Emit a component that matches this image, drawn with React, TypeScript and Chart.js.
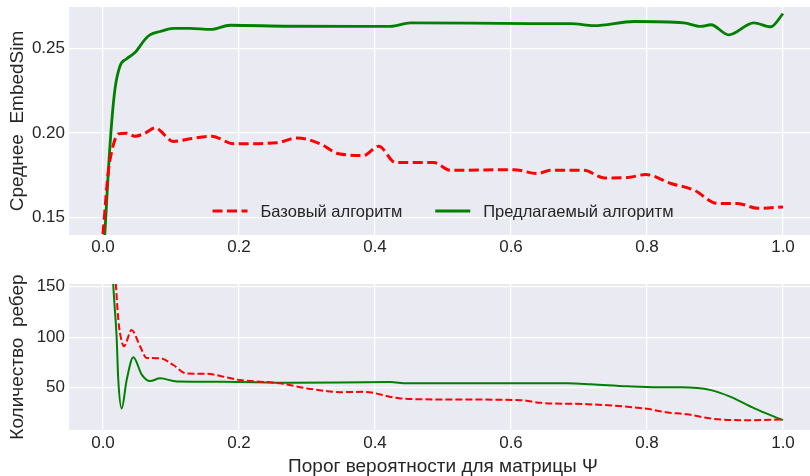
import React, { useEffect, useRef } from 'react';
import { Chart, registerables } from 'chart.js';

Chart.register(...registerables);

// ---------- data ----------
const xTicks = [0, 0.2, 0.4, 0.6, 0.8, 1.0];
const simTicks = [0.15, 0.2, 0.25];
const edgeTicks = [50, 100, 150];

const LABEL_BASE = 'Базовый алгоритм';
const LABEL_PROP = 'Предлагаемый алгоритм';
const Y_TITLE_TOP = 'Среднее  EmbedSim';
const Y_TITLE_BOTTOM = 'Количество  ребер';
const X_TITLE = 'Порог вероятности для матрицы Ψ';

// Mean EmbedSim, baseline algorithm
const simBaseX = [0, 0.0078, 0.015, 0.0225, 0.0349, 0.047, 0.0618, 0.0766, 0.1035, 0.128, 0.16, 0.192, 0.256, 0.285, 0.3196, 0.3466, 0.383, 0.4055, 0.43, 0.4865, 0.511, 0.604, 0.639, 0.658, 0.707, 0.737, 0.771, 0.798, 0.835, 0.869, 0.904, 0.933, 0.963, 1.0];
const simBaseY = [0.14, 0.1769, 0.1925, 0.1994, 0.1998, 0.198, 0.1998, 0.2029, 0.1949, 0.1965, 0.198, 0.1935, 0.1941, 0.197, 0.1935, 0.1876, 0.1866, 0.1921, 0.1824, 0.1824, 0.1778, 0.1782, 0.1759, 0.1778, 0.1778, 0.1733, 0.1735, 0.1753, 0.17, 0.1661, 0.1582, 0.1582, 0.1553, 0.1561];

// Mean EmbedSim, proposed algorithm
const simPropX = [0, 0.0029, 0.0078, 0.0128, 0.0176, 0.025, 0.0349, 0.047, 0.0618, 0.069, 0.084, 0.1035, 0.128, 0.158, 0.187, 0.275, 0.423, 0.452, 0.629, 0.688, 0.722, 0.781, 0.854, 0.879, 0.894, 0.92, 0.957, 0.982, 1.0];
const simPropY = [0.125, 0.1416, 0.1769, 0.2063, 0.2259, 0.2396, 0.2439, 0.2475, 0.2553, 0.258, 0.26, 0.2618, 0.2618, 0.2612, 0.2637, 0.2631, 0.263, 0.2651, 0.2647, 0.2647, 0.2635, 0.2659, 0.2651, 0.263, 0.264, 0.258, 0.2651, 0.2628, 0.2706];

// Edge count, baseline algorithm
const edgeBaseX = [0, 0.019, 0.0226, 0.025, 0.0309, 0.042, 0.0545, 0.064, 0.084, 0.1035, 0.123, 0.148, 0.2015, 0.26, 0.3, 0.354, 0.383, 0.437, 0.496, 0.614, 0.644, 0.712, 0.8, 0.83, 0.859, 0.894, 0.948, 1.0];
const edgeBaseY = [400, 152, 117, 104, 91, 107, 91, 79.5, 79.2, 72.5, 64, 63.9, 57.6, 54.4, 49.4, 45.7, 46, 39.5, 38.5, 37.8, 35.1, 33.8, 29.2, 25.6, 23.9, 19.6, 18, 18.6];

// Edge count, proposed algorithm
const edgePropX = [0, 0.0151, 0.02, 0.0225, 0.0275, 0.0348, 0.0446, 0.057, 0.069, 0.084, 0.1085, 0.177, 0.275, 0.422, 0.447, 0.683, 0.718, 0.771, 0.815, 0.85, 0.894, 0.923, 0.958, 1.0];
const edgePropY = [400, 152, 100.6, 57.6, 29.6, 57.6, 80.2, 63, 56.6, 59.3, 56.3, 56, 55, 55.6, 54.4, 54.4, 53.4, 51.4, 50.4, 50.4, 47.7, 41, 29.6, 18];

// ---------- styling ----------
const FONT = '"Liberation Sans", Arial, sans-serif';
const TEXT = '#262626';
const BG = '#EAEAF2';
const RED = '#FF0000';
const GREEN = '#008000';

const zip = (xs: number[], ys: number[]) => xs.map((x, i) => ({ x, y: ys[i] }));

const bgPlugin = {
  id: 'axesBg',
  beforeDraw(chart: any) {
    const { ctx, chartArea: a } = chart;
    ctx.save();
    ctx.fillStyle = BG;
    ctx.fillRect(a.left, a.top, a.right - a.left, a.bottom - a.top);
    ctx.restore();
  },
};

const innerLegend = {
  id: 'innerLegend',
  afterDatasetsDraw(chart: any) {
    const { ctx, chartArea: a } = chart;
    const items = chart.data.datasets;
    ctx.save();
    ctx.font = `16.5px ${FONT}`;
    const handle = 35;
    const gap = 13;
    const colGap = 33;
    const widths = items.map((d: any) => ctx.measureText(d.label).width);
    let total = 0;
    widths.forEach((w: number, i: number) => {
      total += handle + gap + w + (i < widths.length - 1 ? colGap : 0);
    });
    let x = (a.left + a.right) / 2 - total / 2;
    const y = a.bottom - 24;
    items.forEach((d: any, i: number) => {
      ctx.beginPath();
      ctx.strokeStyle = d.borderColor;
      ctx.lineWidth = d.borderWidth;
      ctx.setLineDash(d.borderDash || []);
      ctx.moveTo(x, y);
      ctx.lineTo(x + handle, y);
      ctx.stroke();
      ctx.setLineDash([]);
      ctx.fillStyle = TEXT;
      ctx.textAlign = 'left';
      ctx.textBaseline = 'middle';
      ctx.fillText(d.label, x + handle + gap, y + 1);
      x += handle + gap + widths[i] + colGap;
    });
    ctx.restore();
  },
};

function makeOptions(p: {
  yMin: number; yMax: number; yTicks: number[]; yDigits: number; yTitle: string;
  xTitle?: string; topPad: number; xHeight: number; xTickPad: number;
}) {
  return {
    responsive: false,
    animation: false,
    devicePixelRatio: 1,
    layout: { padding: { top: p.topPad, left: 0, right: 0, bottom: 0 } },
    plugins: { legend: { display: false }, tooltip: { enabled: false } },
    elements: { point: { radius: 0 } },
    scales: {
      x: {
        type: 'linear',
        min: -0.05,
        max: 1.05,
        afterBuildTicks: (s: any) => { s.ticks = xTicks.map((v) => ({ value: v })); },
        afterFit: (s: any) => { s.height = p.xHeight; s.paddingLeft = 0; s.paddingRight = 0; },
        ticks: {
          callback: (v: any) => Number(v).toFixed(1),
          color: TEXT,
          font: { size: 17, family: FONT },
          padding: p.xTickPad,
          maxRotation: 0,
          autoSkip: false,
        },
        grid: { color: '#FFFFFF', lineWidth: 1.2, drawTicks: false },
        border: { display: false },
        title: p.xTitle
          ? { display: true, text: p.xTitle, color: TEXT, font: { size: 19, family: FONT, lineHeight: 1 }, padding: { top: 0, bottom: 0 } }
          : { display: false },
      },
      y: {
        type: 'linear',
        min: p.yMin,
        max: p.yMax,
        afterBuildTicks: (s: any) => { s.ticks = p.yTicks.map((v) => ({ value: v })); },
        afterFit: (s: any) => { s.width = 69; s.paddingTop = 0; s.paddingBottom = 0; },
        ticks: {
          callback: (v: any) => Number(v).toFixed(p.yDigits),
          color: TEXT,
          font: { size: 17, family: FONT },
          padding: 4,
          autoSkip: false,
        },
        grid: { color: '#FFFFFF', lineWidth: 1.2, drawTicks: false },
        border: { display: false },
        title: { display: true, text: p.yTitle, color: TEXT, font: { size: 19, family: FONT, lineHeight: 1.2 }, padding: { top: 6, bottom: 0 } },
      },
    },
  } as any;
}

function lineDs(label: string, data: any[], color: string, width: number, dash: number[]) {
  return {
    label,
    data,
    borderColor: color,
    backgroundColor: color,
    borderWidth: width,
    borderDash: dash,
    borderJoinStyle: 'round',
    cubicInterpolationMode: 'monotone',
    pointRadius: 0,
    fill: false,
    clip: 0,
  } as any;
}

export default function App() {
  const topRef = useRef<HTMLCanvasElement>(null);
  const botRef = useRef<HTMLCanvasElement>(null);

  useEffect(() => {
    Chart.defaults.font.family = FONT;
    const top = new Chart(topRef.current!, {
      type: 'line',
      data: {
        datasets: [
          lineDs(LABEL_BASE, zip(simBaseX, simBaseY), RED, 3, [10, 4.5]),
          lineDs(LABEL_PROP, zip(simPropX, simPropY), GREEN, 2.8, []),
        ],
      },
      options: makeOptions({
        yMin: 0.1395, yMax: 0.2745, yTicks: simTicks, yDigits: 2, yTitle: Y_TITLE_TOP,
        topPad: 7, xHeight: 25, xTickPad: 2,
      }),
      plugins: [bgPlugin, innerLegend],
    });
    const bot = new Chart(botRef.current!, {
      type: 'line',
      data: {
        datasets: [
          lineDs(LABEL_BASE, zip(edgeBaseX, edgeBaseY), RED, 2, [7, 3]),
          lineDs(LABEL_PROP, zip(edgePropX, edgePropY), GREEN, 2, []),
        ],
      },
      options: makeOptions({
        yMin: 8.3, yMax: 152.5, yTicks: edgeTicks, yDigits: 0, yTitle: Y_TITLE_BOTTOM,
        xTitle: X_TITLE, topPad: 24, xHeight: 46, xTickPad: 3,
      }),
      plugins: [bgPlugin],
    });
    return () => { top.destroy(); bot.destroy(); };
  }, []);

  return (
    <div style={{ position: 'fixed', left: 0, top: 0, width: 810, height: 476, overflow: 'hidden', background: '#FFFFFF' }}>
      <canvas ref={topRef} width={817} height={260} style={{ position: 'absolute', left: 0, top: 0, width: 817, height: 260 }} />
      <canvas ref={botRef} width={817} height={216} style={{ position: 'absolute', left: 0, top: 260, width: 817, height: 216 }} />
    </div>
  );
}
